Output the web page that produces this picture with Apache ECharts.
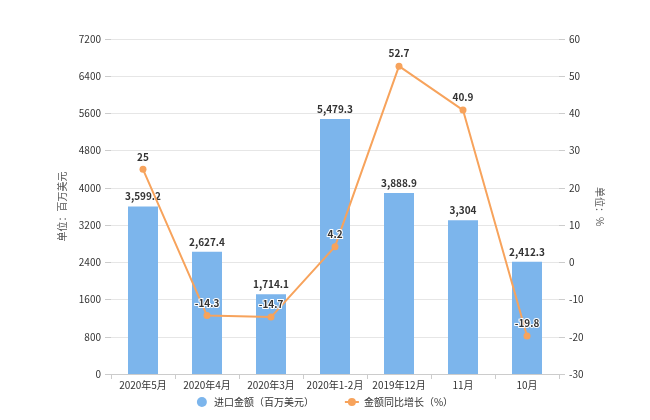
<!DOCTYPE html>
<html><head><meta charset="utf-8">
<script src="https://cdn.jsdelivr.net/npm/echarts@6/dist/echarts.min.js"></script>
<style>html,body{margin:0;padding:0;background:#fff}#c{width:650px;height:420px}</style>
</head><body><div id="c"></div>
<script>
var categories = ['2020年5月','2020年4月','2020年3月','2020年1-2月','2019年12月','11月','10月'];
var importValues = [3599.2, 2627.4, 1714.1, 5479.3, 3888.9, 3304, 2412.3];
var growthValues = [25, -14.3, -14.7, 4.2, 52.7, 40.9, -19.8];
var seriesNames = ['进口金额（百万美元）', '金额同比增长（%）'];
var axisNames = ['单位：百万美元', '单位：%'];

var font = '"Noto Sans CJK SC", "Microsoft YaHei", sans-serif';
var chart = echarts.init(document.getElementById('c'));
chart.setOption({
  animation: false,
  textStyle: {fontFamily: font},
  grid: {left: 111, right: 91, top: 39, bottom: 46},
  legend: {
    bottom: 8, left: 'center', itemWidth: 14, itemHeight: 10, itemGap: 30,
    textStyle: {fontSize: 10, color: '#333', fontFamily: font},
    data: [{name: seriesNames[0], icon: 'circle'}, {name: seriesNames[1]}]
  },
  xAxis: {
    type: 'category', data: categories,
    axisLine: {lineStyle: {color: '#ccc'}},
    axisTick: {show: true, alignWithLabel: false, lineStyle: {color: '#ccc'}},
    axisLabel: {color: '#333', fontSize: 10, interval: 0, margin: 6}
  },
  yAxis: [{
    type: 'value', min: 0, max: 7200, interval: 800,
    name: axisNames[0], nameLocation: 'middle', nameGap: 44, nameRotate: 90,
    nameTextStyle: {color: '#555', fontSize: 10},
    axisLine: {show: false},
    axisTick: {show: true, length: 6, lineStyle: {color: '#ccc'}},
    axisLabel: {color: '#333', fontSize: 10, margin: 10, formatter: function(v){ return String(v); }},
    splitLine: {lineStyle: {color: '#e6e6e6'}}
  }, {
    type: 'value', min: -30, max: 60, interval: 10,
    name: axisNames[1], nameLocation: 'middle', nameGap: 32, nameRotate: -90,
    nameTextStyle: {color: '#555', fontSize: 10},
    axisLine: {show: false},
    axisTick: {show: true, length: 6, lineStyle: {color: '#ccc'}},
    axisLabel: {color: '#333', fontSize: 10, margin: 10},
    splitLine: {show: false}
  }],
  series: [{
    name: seriesNames[0], type: 'bar', data: importValues, barWidth: 30,
    itemStyle: {color: '#7cb5ec'},
    label: {show: true, position: 'top', fontSize: 10, fontWeight: 'bold', color: '#333',
      formatter: function(p){ return p.value.toLocaleString('en-US'); }}
  }, {
    name: seriesNames[1], type: 'line', yAxisIndex: 1, data: growthValues,
    symbol: 'circle', symbolSize: 7,
    itemStyle: {color: '#f7a35c'}, lineStyle: {color: '#f7a35c', width: 2},
    label: {show: true, position: 'top', fontSize: 10, fontWeight: 'bold', color: '#333',
      textBorderColor: '#fff', textBorderWidth: 2, distance: 4}
  }]
});
</script></body></html>
